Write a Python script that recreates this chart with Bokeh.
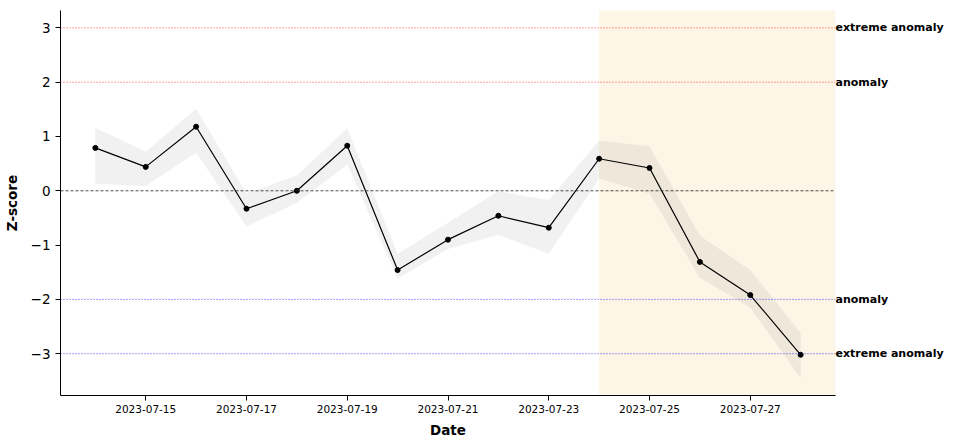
import pandas as pd
from bokeh.plotting import figure
from bokeh.models import Range1d, Span, BoxAnnotation, LinearAxis, FixedTicker, DatetimeTickFormatter, ColumnDataSource
from bokeh.embed import file_html
from bokeh.resources import INLINE

dates = ["2023-07-14", "2023-07-15", "2023-07-16", "2023-07-17", "2023-07-18",
         "2023-07-19", "2023-07-20", "2023-07-21", "2023-07-22", "2023-07-23",
         "2023-07-24", "2023-07-25", "2023-07-26", "2023-07-27", "2023-07-28"]
zscore = [0.79, 0.44, 1.18, -0.33, 0.0, 0.83, -1.46, -0.90, -0.46, -0.68,
          0.59, 0.42, -1.31, -1.92, -3.02]
upper = [1.16, 0.72, 1.51, -0.05, 0.28, 1.15, -1.16, -0.59, -0.01, -0.17,
         0.92, 0.82, -0.83, -1.46, -2.62]
lower = [0.13, 0.09, 0.70, -0.66, -0.22, 0.48, -1.62, -1.07, -0.81, -1.16,
         0.22, -0.05, -1.60, -2.15, -3.45]
forecast_start = "2023-07-24"
x_ticks = ["2023-07-15", "2023-07-17", "2023-07-19", "2023-07-21",
           "2023-07-23", "2023-07-25", "2023-07-27"]
y_ticks = [-3, -2, -1, 0, 1, 2, 3]
thresholds = [3, 2, -2, -3]
threshold_labels = ["extreme anomaly", "anomaly", "anomaly", "extreme anomaly"]
threshold_colors = ["red", "red", "blue", "blue"]

FONT = "DejaVu Sans"
d = pd.to_datetime(dates)
src = ColumnDataSource(dict(x=d, y=zscore, up=upper, lo=lower))

pad = pd.Timedelta(hours=16.6)
p = figure(width=953, height=444, output_backend="svg", toolbar_location=None,
           x_axis_type="datetime",
           x_range=Range1d(d[0] - pad, d[-1] + pad), y_range=Range1d(-3.77, 3.32),
           min_border_left=60, min_border_right=118, min_border_top=10, min_border_bottom=49)
p.outline_line_color = None
p.xgrid.visible = False
p.ygrid.visible = False
p.background_fill_color = "white"

p.add_layout(BoxAnnotation(left=pd.Timestamp(forecast_start), fill_color="#f9d99a",
                           fill_alpha=0.25, line_color=None, level="underlay"))

p.varea(x="x", y1="lo", y2="up", source=src, fill_color="#808080", fill_alpha=0.11)

for t, c in zip(thresholds, threshold_colors):
    p.add_layout(Span(location=t, dimension="width", line_color=c, line_alpha=0.75,
                      line_width=1, line_dash="1 2"))
p.add_layout(Span(location=0, dimension="width", line_color="#222222",
                  line_width=0.8, line_dash="3 2"))

p.line(x="x", y="y", source=src, line_color="black", line_width=1.2)
p.scatter(x="x", y="y", source=src, size=5, fill_color="black", line_color="black")

# threshold labels on the right side
ra = LinearAxis(ticker=FixedTicker(ticks=thresholds),
                major_label_overrides={t: lab for t, lab in zip(thresholds, threshold_labels)})
ra.axis_line_color = None
ra.major_tick_out = 0
ra.major_tick_in = 0
ra.minor_tick_out = 0
ra.minor_tick_in = 0
ra.major_label_standoff = 0
ra.major_label_text_font = FONT
ra.major_label_text_font_style = "bold"
ra.major_label_text_font_size = "11px"
ra.major_label_text_color = "black"
p.add_layout(ra, "right")

xa = p.xaxis[0]
xa.ticker = FixedTicker(ticks=[pd.Timestamp(t).value / 1e6 for t in x_ticks])
xa.formatter = DatetimeTickFormatter(days="%Y-%m-%d", months="%Y-%m-%d", hours="%Y-%m-%d")
xa.major_label_text_font = FONT
xa.major_label_text_font_size = "10.5px"
xa.major_label_text_color = "black"
xa.axis_label = "Date"
xa.axis_label_text_font = FONT
xa.axis_label_text_font_style = "bold"
xa.axis_label_text_font_size = "13.5px"
xa.axis_label_text_color = "black"
xa.axis_label_standoff = 6
xa.major_label_standoff = 4
xa.major_tick_out = 5
xa.major_tick_in = 0
xa.minor_tick_out = 0
xa.minor_tick_in = 0
xa.axis_line_color = "black"

ya = p.yaxis[0]
ya.ticker = FixedTicker(ticks=y_ticks)
ya.major_label_overrides = {t: (str(t) if t >= 0 else "\u2212" + str(-t)) for t in y_ticks}
ya.major_label_text_font = FONT
ya.major_label_text_font_size = "13.5px"
ya.major_label_text_color = "black"
ya.axis_label = "Z-score"
ya.axis_label_text_font = FONT
ya.axis_label_text_font_style = "bold"
ya.axis_label_text_font_size = "13.5px"
ya.axis_label_text_color = "black"
ya.axis_label_standoff = 8
ya.major_label_standoff = 5
ya.major_tick_out = 5
ya.major_tick_in = 0
ya.minor_tick_out = 0
ya.minor_tick_in = 0
ya.axis_line_color = "black"

open("out.html", "w").write(file_html(p, INLINE))
